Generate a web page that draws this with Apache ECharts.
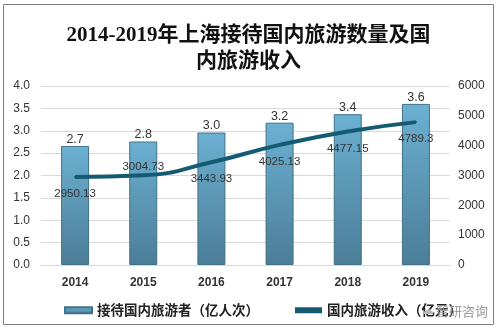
<!DOCTYPE html>
<html><head><meta charset="utf-8">
<script src="https://cdn.jsdelivr.net/npm/echarts@6/dist/echarts.min.js"></script>
<style>html,body{margin:0;padding:0;background:#fff}#c{width:497px;height:330px}</style>
</head><body><div id="c"></div>
<script>
const years = ['2014','2015','2016','2017','2018','2019'];
const tourists = [2.66, 2.76, 2.96, 3.18, 3.37, 3.6];
const income = [2950.13, 3004.73, 3443.93, 4025.13, 4477.15, 4789.3];
const incomeLabelPos = ['bottom','top','bottom','bottom','bottom','bottom'];
const leftTicks = {min:0, max:4, interval:0.5};
const rightTicks = {min:0, max:6000, interval:1000};
const titleLines = '2014-2019年上海接待国内旅游数量及国\n内旅游收入';
const seriesNames = ['接待国内旅游者（亿人次）','国内旅游收入（亿元）'];

const chart = echarts.init(document.getElementById('c'), null, {renderer:'canvas'});
const barGrad = new echarts.graphic.LinearGradient(0,0,0,1,[{offset:0,color:'#6cb0d2'},{offset:1,color:'#4b7d97'}]);
const numFont = '"Liberation Sans"';
chart.setOption({
  animation:false,
  backgroundColor:'#fff',
  graphic:[
    {type:'rect', shape:{x:3.5,y:4.5,width:490,height:320}, style:{fill:'none',stroke:'#7f7f7f',lineWidth:1}, z:0},
    {type:'text', left:436, top:305, style:{text:'智研咨询', fill:'#9a9a9a', font:'13px "Noto Sans CJK SC"'}, z:10},
    {type:'text', left:421, top:304, style:{text:'☁', fill:'#b8b8b8', font:'13px "DejaVu Sans"'}, z:10}
  ],
  title:{
    text:titleLines, left:'center', top:18,
    textStyle:{fontFamily:'"Liberation Serif","Noto Sans CJK SC"', fontSize:21, fontWeight:'bold', color:'#111', lineHeight:26}
  },
  legend:{
    bottom:8, left:59, itemGap:36, itemWidth:27, itemHeight:6,
    textStyle:{fontSize:13.5, fontWeight:'bold', color:'#222', fontFamily:'"Noto Sans CJK SC"'},
    data:[{name:seriesNames[0], icon:'rect'},{name:seriesNames[1], icon:'rect', itemStyle:{color:'#145a73'}}]
  },
  grid:{left:41, right:47, top:86, bottom:65},
  xAxis:{
    type:'category', data:years,
    axisLine:{show:true, lineStyle:{color:'#d9d9d9'}}, axisTick:{show:false},
    axisLabel:{fontSize:12, fontWeight:'bold', color:'#333', margin:12, fontFamily:numFont}
  },
  yAxis:[
    {type:'value', min:leftTicks.min, max:leftTicks.max, interval:leftTicks.interval, position:'left',
     axisLabel:{formatter:v=>v.toFixed(1), fontSize:12, color:'#333', margin:11, fontFamily:numFont},
     splitLine:{lineStyle:{color:'#d9d9d9'}}, axisLine:{show:false}, axisTick:{show:false}},
    {type:'value', min:rightTicks.min, max:rightTicks.max, interval:rightTicks.interval, position:'right',
     axisLabel:{formatter:v=>String(v), fontSize:12, color:'#333', margin:8, fontFamily:numFont},
     splitLine:{show:false}, axisLine:{show:false}, axisTick:{show:false}}
  ],
  series:[
    {name:seriesNames[0], type:'bar', yAxisIndex:0, barWidth:28, data:tourists,
     itemStyle:{color:barGrad, borderColor:'#40718a', borderWidth:1},
     label:{show:true, position:'top', distance:0, formatter:p=>p.value.toFixed(1), fontSize:12.5, color:'#333', fontFamily:numFont}},
    {name:seriesNames[1], type:'line', yAxisIndex:1, smooth:true, showSymbol:true, symbol:'circle', symbolSize:2,
     lineStyle:{color:'#145a73', width:4}, itemStyle:{color:'#145a73'},
     data:income.map((v,i)=>({value:v, label:{position:incomeLabelPos[i], distance:incomeLabelPos[i]==='top'?2:10}})),
     label:{show:true, fontSize:11.5, color:'#333', fontFamily:numFont}, z:5}
  ]
});
</script></body></html>
